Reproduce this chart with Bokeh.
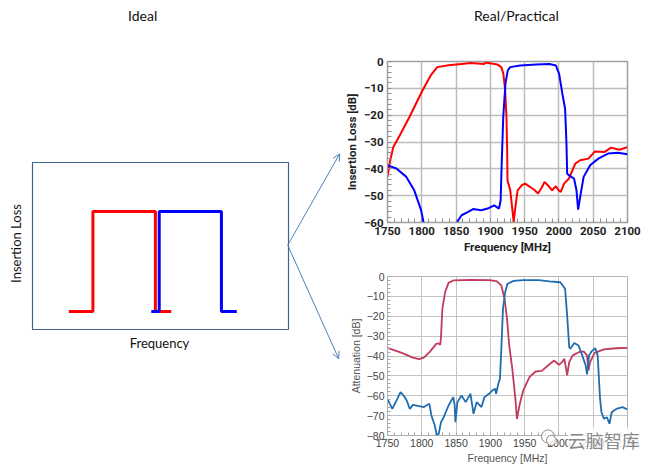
import numpy as np
from bokeh.plotting import figure
from bokeh.layouts import row, column
from bokeh.models import Range1d, FixedTicker, Arrow, OpenHead
from bokeh.core.properties import value
from bokeh.embed import file_html
from bokeh.resources import INLINE

# ---------------- data ----------------
# Ideal (conceptual) responses, arbitrary units: the frame spans 0..100 on both axes
ideal_red_f = [14.2, 23.6, 23.6, 48.0, 48.0, 54.2]
ideal_red_v = [10.8, 10.8, 70.7, 70.7, 10.8, 10.8]
ideal_blue_f = [46.4, 49.5, 49.5, 73.8, 73.8, 79.8]
ideal_blue_v = [10.8, 10.8, 70.7, 70.7, 10.8, 10.8]

# Real/Practical, top chart (Insertion Loss [dB] vs Frequency [MHz])
top_red_f = [1750, 1754, 1758.5, 1768, 1782, 1801, 1813, 1822.5, 1839, 1858, 1871, 1891, 1893,
             1910, 1916, 1919, 1921.6, 1923.5, 1924.5, 1925, 1929, 1931.6, 1934, 1936, 1939.7,
             1946, 1950.6, 1957.7, 1964.8, 1969.5, 1974, 1979, 1983.8, 1990, 1995.6, 1999.4,
             2002.7, 2007.5, 2014.6, 2024, 2031, 2043, 2052.5, 2066.7, 2076, 2088, 2100]
top_red_db = [-43, -36.8, -31.9, -27.5, -20.7, -10.8, -5.2, -2.1, -1.4, -0.9, -0.6, -0.9, -0.4,
              -1.1, -2.1, -4.6, -10.8, -20.7, -33, -44.3, -48, -54, -59.8, -55.4, -48,
              -46.1, -45.5, -46.7, -48, -49.2, -47.4, -44.9, -46.1, -48, -46.5, -48,
              -48.6, -45.5, -43.6, -38, -36.8, -36.2, -33.5, -33.7, -32.1, -32.9, -31.9]
top_blue_f = [1750, 1763, 1777.5, 1789, 1799, 1802.6, 1806, 1846, 1851, 1858, 1867.6, 1874.7,
              1886.6, 1896, 1905.5, 1912.6, 1915, 1916.4, 1918.8, 1922, 1925.4, 1929, 1943.5,
              1967, 1986, 1995.6, 2000.3, 2005, 2009, 2011, 2012, 2017, 2022, 2025.6, 2028,
              2031, 2036, 2045.5, 2057.5, 2071.5, 2085.8, 2100]
top_blue_db = [-38.7, -39.9, -43, -48, -55.4, -60, -66, -66, -60, -57.3, -56, -55,
               -55.4, -54.8, -53.6, -54.8, -51.7, -39.3, -20.7, -8.3, -3.3, -2.1, -1.5,
               -1.1, -0.9, -1.5, -4.6, -12, -17.6, -30.6, -41.8, -42.8, -43.6, -48, -55.2,
               -50.5, -43, -38.7, -36.2, -34.3, -34, -34.6]

# Real/Practical, bottom chart (Attenuation [dB] vs Frequency [MHz])
bot_red_f = [1750, 1771, 1787, 1796, 1803, 1812, 1821, 1825, 1827, 1828, 1830, 1834, 1839, 1846,
             1871, 1898, 1909, 1916, 1920.7, 1924.3, 1927.5, 1932, 1936.5, 1938.8, 1942.4,
             1947.9, 1957, 1966, 1975, 1984, 1993, 2000, 2004.5, 2008, 2012, 2015, 2020, 2029,
             2036, 2041, 2043, 2045.5, 2052, 2065.6, 2083.7, 2100]
bot_red_db = [-35.9, -38.4, -40.8, -41.6, -40.8, -37.8, -33.9, -33.6, -34.4, -30.5, -16.3, -7.9,
              -3.2, -2.0, -1.7, -1.8, -2.3, -4.5, -11.2, -21.3, -34.7, -46.5, -61.6, -71.6,
              -64.9, -57.4, -50.6, -47.8, -47.5, -44.8, -42.3, -44.4, -43.1, -41.4, -49.8,
              -43.1, -39.7, -38.1, -37.7, -39.7, -47.3, -43.1, -38.4, -36.7, -36.1, -35.9]
bot_blue_f = [1750, 1757, 1762, 1769, 1773.5, 1778, 1782.6, 1787, 1796, 1803, 1811, 1814, 1819,
              1822, 1824.7, 1828, 1832, 1839, 1846, 1848, 1849, 1852, 1858, 1864, 1871, 1875.5,
              1880, 1887, 1891.5, 1898, 1902.6, 1907, 1908.4, 1911.6, 1914, 1916, 1918.4,
              1921.6, 1925, 1934, 1948, 1970.5, 1986, 2002, 2009, 2012, 2015, 2016.6, 2022.5,
              2028.5, 2034, 2039, 2041, 2044, 2047.5, 2053, 2056.5, 2060, 2062, 2065.6, 2070,
              2073.7, 2077, 2083.7, 2092.7, 2100]
bot_blue_db = [-61.6, -66.6, -63.2, -58.2, -59.9, -62.4, -66.6, -64.6, -65.2, -65.7, -64, -69.9,
               -75, -80, -79.2, -73.3, -70.8, -64.9, -60.7, -64.9, -73.3, -63.2, -59.9, -63.2,
               -59, -69.1, -63.2, -65.7, -60.7, -59, -57.4, -56.5, -59, -54, -51.5, -36.4,
               -16.3, -7.9, -3.7, -2.2, -1.8, -1.8, -2.5, -2.9, -6.2, -19.6, -35.6, -36.4,
               -33.5, -34.7, -39.7, -44.8, -49.3, -39.7, -37.7, -36.1, -39.7, -61.6, -68.3,
               -71.6, -70.8, -74.1, -68.3, -66.6, -65.7, -66.9]

freq_ticks = [1750, 1800, 1850, 1900, 1950, 2000, 2050, 2100]
top_db_ticks = [0, -10, -20, -30, -40, -50, -60]
bot_db_ticks = [0, -10, -20, -30, -40, -50, -60, -70, -80]

# ---------------- left: ideal sketch ----------------
LW, H = 341, 469
left = figure(width=LW, height=H, output_backend="svg", toolbar_location=None,
              x_range=Range1d(-32 / 2.56, (LW - 32) / 2.56),
              y_range=Range1d(-140 / 1.67, (H - 140) / 1.67),
              min_border=0)
left.axis.visible = False
left.grid.visible = False
left.outline_line_color = None

left.quad(left=0, right=100, bottom=0, top=100, fill_color=None,
          line_color="#41618F", line_width=1.2)
left.line(ideal_red_f, ideal_red_v, line_color="#FF0000", line_width=3)
left.line(ideal_blue_f, ideal_blue_v, line_color="#0000FF", line_width=3)

left.text(x=[43], y=[188], text=["Ideal"], text_font=value("Lato"), text_font_size="14px",
          text_align="center", text_baseline="middle", text_color="#111111")
left.text(x=[-6.3], y=[51.5], text=["Insertion Loss"], angle=np.pi / 2,
          text_font=value("Lato"), text_font_size="13px",
          text_align="center", text_baseline="middle", text_color="#111111")
left.text(x=[49.6], y=[-7.8], text=["Frequency"], text_font=value("Lato"),
          text_font_size="13px", text_align="center", text_baseline="middle",
          text_color="#111111")

for xe, ye in [(120.0, 105.2), (119.6, -17.5)]:
    left.add_layout(Arrow(x_start=99.7, y_start=50.5, x_end=xe, y_end=ye,
                          line_color="#4F81BD", line_width=1,
                          end=OpenHead(size=7, line_color="#4F81BD", line_width=1)))

# ---------------- right: title ----------------
RW = 311
title_fig = figure(width=RW, height=48, output_backend="svg", toolbar_location=None,
                   x_range=Range1d(0, RW), y_range=Range1d(48, 0), min_border=0)
title_fig.axis.visible = False
title_fig.grid.visible = False
title_fig.outline_line_color = None
title_fig.text(x=[167], y=[15], text=["Real/Practical"], text_font=value("Lato"),
               text_font_size="14px", text_align="center", text_baseline="middle",
               text_color="#111111")

# ---------------- right: top measured chart ----------------
narrow = "Liberation Sans Narrow, Roboto"
top = figure(width=RW, height=212, output_backend="svg", toolbar_location=None,
             x_range=Range1d(1750, 2100), y_range=Range1d(-60, 0),
             min_border_left=40, min_border_right=25, min_border_top=13, min_border_bottom=38)
top.line(top_red_f, top_red_db, line_color="#FF0000", line_width=2)
top.line(top_blue_f, top_blue_db, line_color="#0000FF", line_width=2)
top.xaxis.ticker = FixedTicker(ticks=freq_ticks, minor_ticks=list(np.arange(1750, 2101, 10)))
top.yaxis.ticker = FixedTicker(ticks=top_db_ticks, minor_ticks=list(np.arange(-60, 1, 2)))
top.xaxis.axis_label = "Frequency [MHz]"
top.yaxis.axis_label = "Insertion Loss [dB]"
for ax in top.axis:
    ax.major_tick_in = 0
    ax.major_tick_out = 0
    ax.minor_tick_in = 4
    ax.minor_tick_out = 0
    ax.minor_tick_line_color = "#909090"
    ax.axis_line_color = "#A0A0A0"
    ax.major_label_text_font = narrow
    ax.major_label_text_font_style = "bold"
    ax.major_label_text_font_size = "11.5px"
    ax.major_label_text_color = "#222222"
    ax.axis_label_text_font = narrow
    ax.axis_label_text_font_style = "bold"
    ax.axis_label_text_font_size = "11.5px"
    ax.axis_label_text_color = "#222222"
    ax.major_label_standoff = 4
    ax.axis_label_standoff = 2
top.grid.grid_line_color = "#BDBDBD"
top.grid.grid_line_width = 1.5
top.outline_line_color = "#A0A0A0"
top.outline_line_width = 1.5

# ---------------- right: bottom measured chart ----------------
bot = figure(width=RW, height=209, output_backend="svg", toolbar_location=None,
             x_range=Range1d(1750, 2100), y_range=Range1d(-80, 0),
             min_border_left=33, min_border_right=20, min_border_top=16, min_border_bottom=34)
bot.line(bot_red_f, bot_red_db, line_color="#C23B5C", line_width=1.8)
bot.line(bot_blue_f, bot_blue_db, line_color="#1F6DB0", line_width=1.8)
bot.xaxis.ticker = FixedTicker(ticks=freq_ticks, minor_ticks=list(np.arange(1750, 2101, 10)))
bot.yaxis.ticker = FixedTicker(ticks=bot_db_ticks, minor_ticks=list(np.arange(-80, 1, 2)))
bot.xaxis.axis_label = "Frequency [MHz]"
bot.yaxis.axis_label = "Attenuation [dB]"
for ax in bot.axis:
    ax.major_tick_in = 0
    ax.major_tick_out = 0
    ax.minor_tick_in = 3
    ax.minor_tick_out = 0
    ax.minor_tick_line_color = "#A8A8A8"
    ax.axis_line_color = "#B0B0B0"
    ax.major_label_text_font = "Liberation Sans"
    ax.major_label_text_font_size = "10.5px"
    ax.major_label_text_color = "#444444"
    ax.axis_label_text_font = "Liberation Sans"
    ax.axis_label_text_font_style = "normal"
    ax.axis_label_text_font_size = "10.5px"
    ax.axis_label_text_color = "#555555"
    ax.major_label_standoff = 3
    ax.axis_label_standoff = 2
bot.grid.grid_line_color = "#C4C4C4"
bot.grid.grid_line_width = 1
bot.outline_line_color = "#B4B4B4"

# watermark (overlay level so that it is drawn over the axis area)
wm = bot.text(x=[2013], y=[-82.5], text=["云脑智库"], text_font=value("Noto Sans CJK SC"),
              text_font_size="18px", text_color="#7A7A7A", text_alpha=0.9,
              background_fill_color="white", background_fill_alpha=0.8,
              text_baseline="middle", text_align="left")
wm.level = "overlay"
icon = bot.scatter(x=[1984, 1989], y=[-80.5, -82.5], size=[13, 10], marker="circle",
                   fill_color="white", fill_alpha=0.8, line_color="#8A8A8A", line_width=1)
icon.level = "overlay"

layout = row(left, column(title_fig, top, bot))
open("out.html", "w").write(file_html(layout, INLINE))
